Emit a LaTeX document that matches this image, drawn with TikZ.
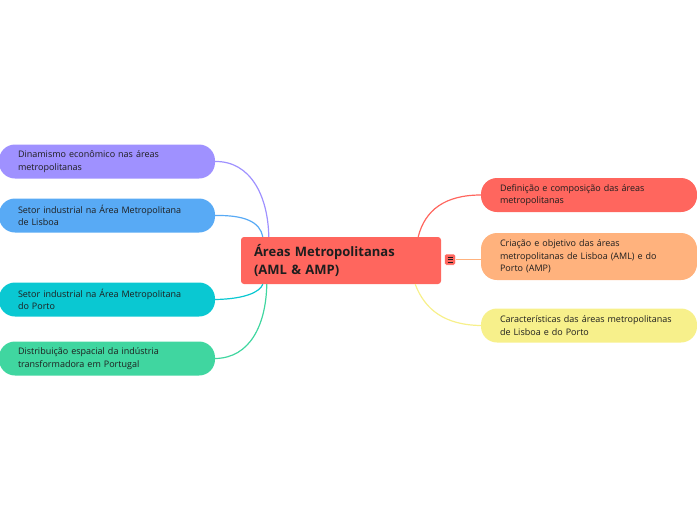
\documentclass[tikz,border=0pt]{standalone}
\usepackage{fontspec}
\setmainfont{Open Sans}
\usetikzlibrary{positioning}
\definecolor{mapaRoxo}   {RGB}{159, 145, 255}
\definecolor{mapaAzul}   {RGB}{ 88, 170, 245}
\definecolor{mapaCiano}  {RGB}{ 10, 200, 210}
\definecolor{mapaVerde}  {RGB}{ 64, 214, 160}
\definecolor{mapaVermelho}{RGB}{255, 102,  94}
\definecolor{mapaLaranja}{RGB}{255, 178, 125}
\definecolor{mapaAmarelo}{RGB}{247, 240, 139}
\definecolor{mapaTexto}  {RGB}{ 30,  30,  30}
\tikzset{
  ramo/.style={rounded corners=16pt,minimum width=216pt,minimum height=34pt,
               text width=178pt,align=left,inner sep=0pt,font=\fontsize{9}{12.5}\selectfont,
               text=mapaTexto},
  ligacao/.style={line width=1.2pt}
}
\begin{document}
\begin{tikzpicture}[x=1pt,y=-1pt]
        \useasboundingbox (0,0) rectangle (697,520);

        % Tema central
        \node[fill=mapaVermelho,rounded corners=3pt,minimum width=200pt,minimum height=47pt,
              text width=174pt,align=left,inner sep=0pt,
              font=\bfseries\fontsize{13}{18}\selectfont,text=mapaTexto] (centro) at (341,260.5)
              {Áreas Metropolitanas\\(AML \& AMP)};
        \node[fill=mapaVermelho,draw=white,line width=0.5pt,rounded corners=1.5pt,
              minimum size=11pt,inner sep=0pt] (icone) at (450,259.5) {};
        \foreach \dy in {-2.5,0,2.5}{
          \draw[mapaTexto,line width=0.7pt] ([xshift=-2.5pt,yshift=\dy]icone.center) -- ([xshift=2.5pt,yshift=\dy]icone.center);
        }

        % Ramos da esquerda
        \node[ramo,fill=mapaRoxo] (dinamismo) at (107,161.5)
              {Dinamismo econômico nas áreas\\metropolitanas};
        \node[ramo,fill=mapaAzul] (lisboa) at (107,215.5)
              {Setor industrial na Área Metropolitana\\de Lisboa};
        \node[ramo,fill=mapaCiano] (porto) at (107,299.5)
              {Setor industrial na Área Metropolitana\\do Porto};
        \node[ramo,fill=mapaVerde] (distribuicao) at (107,358.5)
              {Distribuição espacial da indústria\\transformadora em Portugal};

        % Ramos da direita
        \node[ramo,fill=mapaVermelho] (definicao) at (589,195)
              {Definição e composição das áreas\\metropolitanas};
        \node[ramo,fill=mapaLaranja,minimum height=47pt] (criacao) at (589,256.5)
              {Criação e objetivo das áreas\\metropolitanas de Lisboa (AML) e do\\Porto (AMP)};
        \node[ramo,fill=mapaAmarelo] (caracteristicas) at (589,325.5)
              {Características das áreas metropolitanas\\de Lisboa e do Porto};

        % Ligacoes
        \draw[ligacao,mapaRoxo] (dinamismo.east) .. controls (250,161) and (268,195) .. ([xshift=28pt]centro.north west);
        \draw[ligacao,mapaAzul] (lisboa.east) .. controls (245,215) and (260,222) .. ([xshift=22pt]centro.north west);
        \draw[ligacao,mapaCiano] (porto.east) .. controls (245,299) and (260,292) .. ([xshift=22pt]centro.south west);
        \draw[ligacao,mapaVerde] (distribuicao.east) .. controls (250,358) and (266,325) .. ([xshift=26pt]centro.south west);
        \draw[ligacao,mapaVermelho] ([xshift=-23pt]centro.north east) .. controls (425,210) and (445,195) .. (definicao.west);
        \draw[ligacao,mapaLaranja] (icone.east) -- (icone.east -| criacao.west);
        \draw[ligacao,mapaAmarelo] ([xshift=-26pt]centro.south east) .. controls (425,310) and (445,325) .. (caracteristicas.west);
\end{tikzpicture}
\end{document}
